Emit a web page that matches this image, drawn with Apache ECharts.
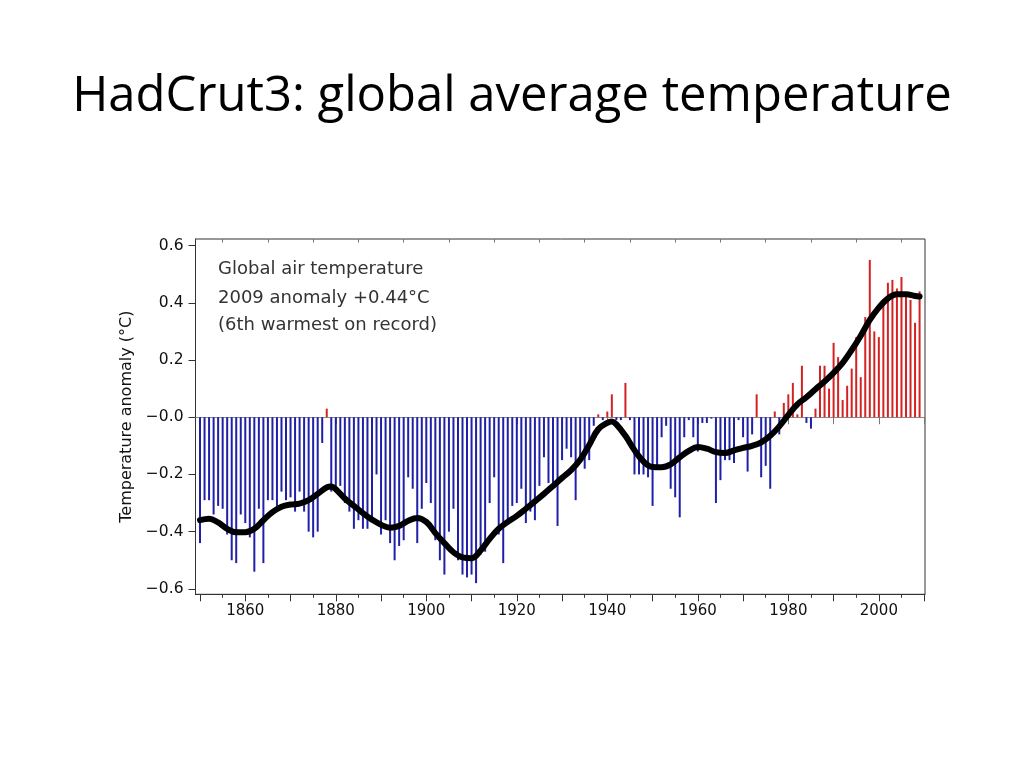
<!DOCTYPE html>
<html>
<head>
<meta charset="utf-8">
<script src="https://cdn.jsdelivr.net/npm/echarts@6/dist/echarts.min.js"></script>
<style>
html,body{margin:0;padding:0;background:#fff;}
#c{width:1024px;height:768px;}
</style>
</head>
<body>
<div id="c"></div>
<script>
// ---- data ----
var firstYear = 1850;
var anomalies = [
 -0.44,-0.29,-0.29,-0.34,-0.31,-0.32,-0.41,-0.50,-0.51,-0.34, // 1850s
 -0.37,-0.42,-0.54,-0.32,-0.51,-0.29,-0.29,-0.31,-0.26,-0.29, // 1860s
 -0.28,-0.33,-0.26,-0.33,-0.40,-0.42,-0.40,-0.09, 0.03,-0.26, // 1870s
 -0.25,-0.24,-0.30,-0.33,-0.39,-0.36,-0.39,-0.39,-0.35,-0.20, // 1880s
 -0.41,-0.36,-0.44,-0.50,-0.45,-0.43,-0.21,-0.25,-0.44,-0.32, // 1890s
 -0.23,-0.30,-0.43,-0.50,-0.55,-0.40,-0.32,-0.50,-0.55,-0.56, // 1900s
 -0.55,-0.58,-0.48,-0.47,-0.30,-0.21,-0.41,-0.51,-0.36,-0.31, // 1910s
 -0.30,-0.25,-0.37,-0.33,-0.36,-0.24,-0.14,-0.23,-0.23,-0.38, // 1920s
 -0.15,-0.11,-0.14,-0.29,-0.14,-0.18,-0.15,-0.03, 0.01,-0.01, // 1930s
  0.02, 0.08,-0.01,-0.01, 0.12,-0.01,-0.20,-0.20,-0.20,-0.21, // 1940s
 -0.31,-0.18,-0.07,-0.03,-0.25,-0.28,-0.35,-0.07,-0.01,-0.07, // 1950s
 -0.12,-0.02,-0.02,-0.005,-0.30,-0.22,-0.15,-0.15,-0.16,-0.01, // 1960s
 -0.07,-0.19,-0.06, 0.08,-0.21,-0.17,-0.25, 0.02,-0.06, 0.05, // 1970s
  0.08, 0.12, 0.01, 0.18,-0.02,-0.04, 0.03, 0.18, 0.18, 0.10, // 1980s
  0.26, 0.21, 0.06, 0.11, 0.17, 0.28, 0.14, 0.35, 0.55, 0.30, // 1990s
  0.28, 0.41, 0.47, 0.48, 0.45, 0.49, 0.43, 0.41, 0.33, 0.44  // 2000s
];
// smoothed curve at sample years
var smoothYears = [1850,1852,1854,1856,1858,1860,1862,1864,1866,1868,1870,1872,1874,1876,1878,1879,
 1880,1882,1884,1886,1888,1890,1892,1894,1896,1898,1900,1902,1904,1906,1908,1910,1912,1914,1916,1918,
 1920,1922,1924,1926,1928,1930,1932,1934,1936,1938,1940,1941,1942,1944,1946,1948,1950,1952,1954,1956,
 1958,1960,1962,1964,1966,1968,1970,1972,1974,1976,1978,1980,1982,1984,1986,1988,1990,1992,1994,1996,
 1998,2000,2002,2004,2006,2008,2009];
var smoothValues = [-0.360,-0.355,-0.368,-0.390,-0.402,-0.402,-0.390,-0.360,-0.332,-0.313,-0.305,-0.302,-0.290,-0.268,-0.245,-0.242,
 -0.252,-0.284,-0.310,-0.335,-0.358,-0.376,-0.386,-0.380,-0.362,-0.352,-0.366,-0.405,-0.440,-0.472,-0.490,-0.493,-0.466,-0.425,-0.390,-0.366,
 -0.345,-0.320,-0.294,-0.268,-0.240,-0.212,-0.185,-0.149,-0.097,-0.042,-0.020,-0.015,-0.025,-0.065,-0.115,-0.155,-0.174,-0.175,-0.165,-0.140,
 -0.118,-0.104,-0.110,-0.122,-0.125,-0.116,-0.107,-0.100,-0.088,-0.065,-0.032,0.008,0.045,0.070,0.098,0.125,0.155,0.190,0.235,0.285,
 0.340,0.383,0.415,0.430,0.430,0.424,0.422];
var xMajorTicks = [1850,1860,1870,1880,1890,1900,1910,1920,1930,1940,1950,1960,1970,1980,1990,2000,2010];
var xMinorTicks = [1855,1865,1875,1885,1895,1905,1915,1925,1935,1945,1955,1965,1975,1985,1995,2005];
var xLabelYears = [1860,1880,1900,1920,1940,1960,1980,2000];
var yTicks = [-0.6,-0.4,-0.2,0,0.2,0.4,0.6];
var titleText = 'HadCrut3: global average temperature';
var noteLines = ['Global air temperature','2009 anomaly +0.44°C','(6th warmest on record)'];
var yName = 'Temperature anomaly (°C)';

// ---- build ----
var barData = anomalies.map(function(v,i){ return [firstYear+i, v]; });
var lineData = smoothYears.map(function(y,i){ return [y, smoothValues[i]]; });
var XMIN = 1849, XMAX = 2010.2;
var FONT = 'DejaVu Sans';

function xAxisBase(extra){
  var o = {type:'value', min:XMIN, max:XMAX, gridIndex:0, splitLine:{show:false}};
  for (var k in extra) o[k]=extra[k];
  return o;
}

var chart = echarts.init(document.getElementById('c'), null, {renderer:'canvas'});
chart.setOption({
  backgroundColor:'#ffffff',
  animation:false,
  grid:{left:195.5, top:239, width:729.5, height:355.3, show:true, borderColor:'#333', borderWidth:1, backgroundColor:'transparent'},
  xAxis:[
    xAxisBase({position:'bottom', axisLine:{show:true, onZero:false, lineStyle:{color:'#333', width:1}},
      axisTick:{show:true, length:7, customValues:xMajorTicks, lineStyle:{color:'#333'}},
      axisLabel:{show:true, customValues:xLabelYears, margin:9, fontFamily:FONT, fontSize:15, color:'#111', formatter:function(v){return String(v);}}}),
    xAxisBase({position:'bottom', axisLine:{show:false, onZero:false},
      axisTick:{show:true, length:3.5, customValues:xMinorTicks, lineStyle:{color:'#333'}},
      axisLabel:{show:false}}),
    xAxisBase({position:'top', axisLine:{show:true, onZero:true, lineStyle:{color:'#8a8a8a', width:1}},
      axisTick:{show:true, inside:true, length:7, customValues:xMajorTicks, lineStyle:{color:'#777'}},
      axisLabel:{show:false}}),
    xAxisBase({position:'top', axisLine:{show:false, onZero:true},
      axisTick:{show:true, inside:true, length:3.5, customValues:xMinorTicks, lineStyle:{color:'#777'}},
      axisLabel:{show:false}})
  ],
  yAxis:[{
    type:'value', min:-0.619, max:0.623, position:'left',
    axisLine:{show:true, onZero:false, lineStyle:{color:'#333'}},
    axisTick:{show:true, length:7, customValues:yTicks, lineStyle:{color:'#333'}},
    axisLabel:{show:true, customValues:yTicks, margin:12, fontFamily:FONT, fontSize:15.5, color:'#111',
      formatter:function(v){ v=Math.round(v*10)/10; return (v<=0?'\u2212':'')+Math.abs(v).toFixed(1); }},
    splitLine:{show:false},
    name:yName, nameLocation:'middle', nameGap:51, nameRotate:90,
    nameTextStyle:{fontFamily:FONT, fontSize:16, color:'#111'}
  }],
  series:[
    {type:'bar', xAxisIndex:0, yAxisIndex:0, barWidth:2, data:barData, z:2,
     itemStyle:{color:function(p){ return p.value[1]>=0 ? '#d42222' : '#1f1fa8'; }}},
    {type:'line', xAxisIndex:0, yAxisIndex:0, data:lineData, smooth:0.4, showSymbol:false, symbol:'none', z:5,
     lineStyle:{color:'#000', width:6, cap:'round', join:'round'}}
  ],
  graphic:[
    {type:'text', x:512, y:97.5, style:{text:titleText, font:'49px "Open Sans"', fill:'#000', align:'center', verticalAlign:'middle'}},
    {type:'text', x:218, y:269, style:{text:noteLines[0], font:'18px "DejaVu Sans"', fill:'#333', align:'left', verticalAlign:'middle'}},
    {type:'text', x:218, y:298.5, style:{text:noteLines[1], font:'18px "DejaVu Sans"', fill:'#333', align:'left', verticalAlign:'middle'}},
    {type:'text', x:218, y:325, style:{text:noteLines[2], font:'18px "DejaVu Sans"', fill:'#333', align:'left', verticalAlign:'middle'}}
  ]
});
</script>
</body>
</html>
